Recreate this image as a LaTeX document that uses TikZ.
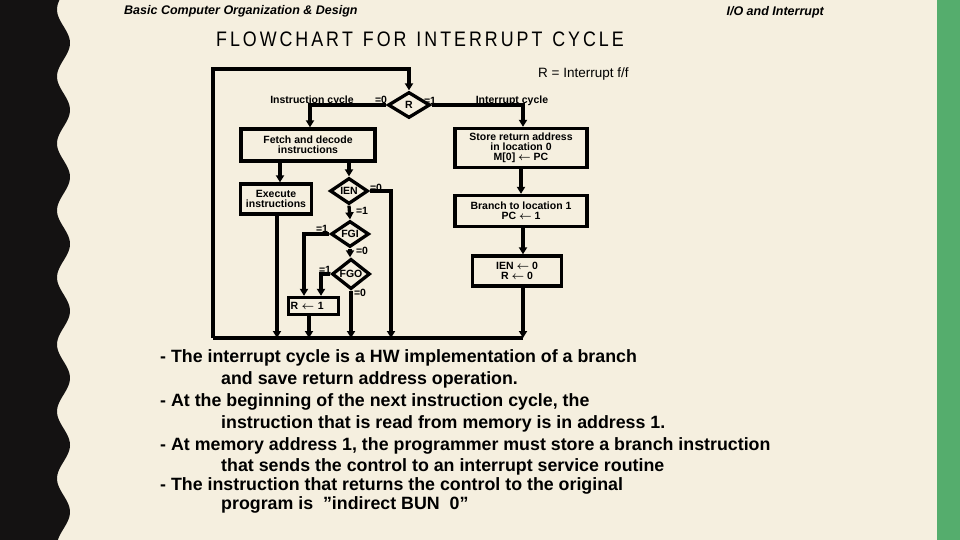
\documentclass[tikz,border=0pt]{standalone}
\usepackage{fontspec}
\setmainfont{Liberation Sans}
\usetikzlibrary{arrows.meta,shapes.geometric}
\definecolor{bg}{HTML}{F5EFDF}
\definecolor{grn}{HTML}{55AD6D}
\definecolor{blk}{HTML}{141212}
\begin{document}
\begin{tikzpicture}[x=1pt,y=-1pt,
  ln/.style={line width=3.3pt},
  arr/.style={ln,-{Triangle[length=7pt,width=8pt]}},
  box/.style={draw,line width=3.3pt,inner sep=0pt,align=center,font=\fontsize{10.5}{9.8}\selectfont\bfseries\boldmath},
  dia/.style={draw,diamond,line width=3.3pt,inner sep=0pt,minimum width=38pt,minimum height=26pt,font=\fontsize{10.5}{10}\selectfont\bfseries},
  lab/.style={font=\fontsize{10.5}{10}\selectfont\bfseries,inner sep=0pt},
  body/.style={font=\fontsize{17.8}{17.8}\selectfont\bfseries,anchor=west,inner sep=0pt}]
\useasboundingbox (0,0) rectangle (960,540);
\fill[bg] (0,0) rectangle (960,540);
\fill[grn] (937,0) rectangle (960,540);
\fill[blk] (0,0) -- plot[domain=0:540,samples=200,variable=\t] ({63.5+6.5*sin(\t*5.373-141)},\t) -- (0,540) -- cycle;
% header
\node[font=\fontsize{12.5}{12.5}\selectfont\bfseries\itshape,anchor=west,inner sep=0pt] (hl) at (124,11) {Basic Computer Organization \& Design};
\node[font=\fontsize{12.5}{12.5}\selectfont\bfseries\itshape,anchor=east,inner sep=0pt] (hr) at (824,12) {I/O and Interrupt};
\node[font=\fontsize{21}{21}\selectfont,anchor=west,inner sep=0pt,xscale=0.85] (title) at (216,39) {F\,L\,O\,W\,C\,H\,A\,R\,T\ \ F\,O\,R\ \ I\,N\,T\,E\,R\,R\,U\,P\,T\ \ C\,Y\,C\,L\,E};
\node[font=\fontsize{13.5}{13.5}\selectfont,anchor=west,inner sep=0pt] (rdef) at (538,74) {R = Interrupt f/f};
% nodes
\node[dia,minimum width=42pt] (R) at (409,105) {R};
\node[box,minimum width=134pt,minimum height=32pt] (fetch) at (308,145) {Fetch and decode\\instructions};
\node[box,minimum width=132pt,minimum height=39pt] (store) at (521,148) {Store return address\\in location 0\\M[0] $\leftarrow$ PC};
\node[box,minimum width=132pt,minimum height=31pt] (branch) at (521,211) {Branch to location 1\\PC $\leftarrow$ 1};
\node[box,minimum width=89pt,minimum height=30pt] (ien0) at (517,271) {IEN $\leftarrow$ 0\\R $\leftarrow$ 0};
\node[box,minimum width=71pt,minimum height=30pt] (exec) at (276,199) {Execute\\instructions};
\node[dia] (IEN) at (349,191) {IEN};
\node[dia] (FGI) at (350,234) {FGI};
\node[dia] (FGO) at (351,274) {FGO};
\node[box,minimum width=50pt,minimum height=17pt,anchor=west,text width=46pt,align=left] (r1) at (287,306) {R $\leftarrow$ 1};
% coordinates
\coordinate (tl) at (213,69);
\coordinate (bl) at (213,338);
\coordinate (br) at (523,338);
% connectors
\draw[arr] (bl) -- (tl) -| (R.north);
\draw[arr] (R.west) -| (fetch.north -| 310,0);
\draw[arr] (R.east) -| (store.north -| 523,0);
\draw[arr] (store) -- (branch);
\draw[arr] (branch.south -| 523,0) -- (ien0.north -| 523,0);
\draw[arr] (ien0.south -| 523,0) -- (br);
\draw[ln] (bl) -- (br);
\draw[arr] (fetch.south -| 280,0) -- (exec.north -| 280,0);
\draw[arr] (fetch.south -| IEN) -- (IEN.north);
\draw[arr] (exec.south -| 277,0) -- (277,338);
\draw[arr] (IEN.east) -| (391,338);
\draw[arr] (IEN.south) -- (FGI.north);
\draw[arr] (FGI.south) -- (FGO.north -| FGI);
\draw[arr] (FGI.west) -| (r1.north -| 304,0);
\draw[arr] (FGO.west) -| (r1.north -| 321,0);
\draw[arr] (r1.south -| 309,0) -- (309,338);
\draw[arr] (FGO.south) -- (FGO.south |- 0,338);
% labels
\node[lab] at (312,101) {Instruction cycle};
\node[lab] at (512,101) {Interrupt cycle};
\node[lab] at (381,100) {=0};
\node[lab] at (430,101) {=1};
\node[lab] at (376,188) {=0};
\node[lab] at (362,211) {=1};
\node[lab] at (322,229) {=1};
\node[lab] at (362,251) {=0};
\node[lab] at (325,270) {=1};
\node[lab] at (360,293) {=0};
% body
\node[body] (b1) at (160,358) {- The interrupt cycle is a HW implementation of a branch};
\node[body] (b2) at (221,380) {and save return address operation.};
\node[body] (b3) at (160,402) {- At the beginning of the next instruction cycle, the};
\node[body] (b4) at (221,424) {instruction that is read from memory is in address 1.};
\node[body] (b5) at (160,446) {- At memory address 1, the programmer must store a branch instruction};
\node[body] (b6) at (221,467) {that sends the control to an interrupt service routine};
\node[body] (b7) at (160,486) {- The instruction that returns the control to the original};
\node[body] (b8) at (221,505) {program is \ "indirect BUN \ 0"};
\end{tikzpicture}
\end{document}
